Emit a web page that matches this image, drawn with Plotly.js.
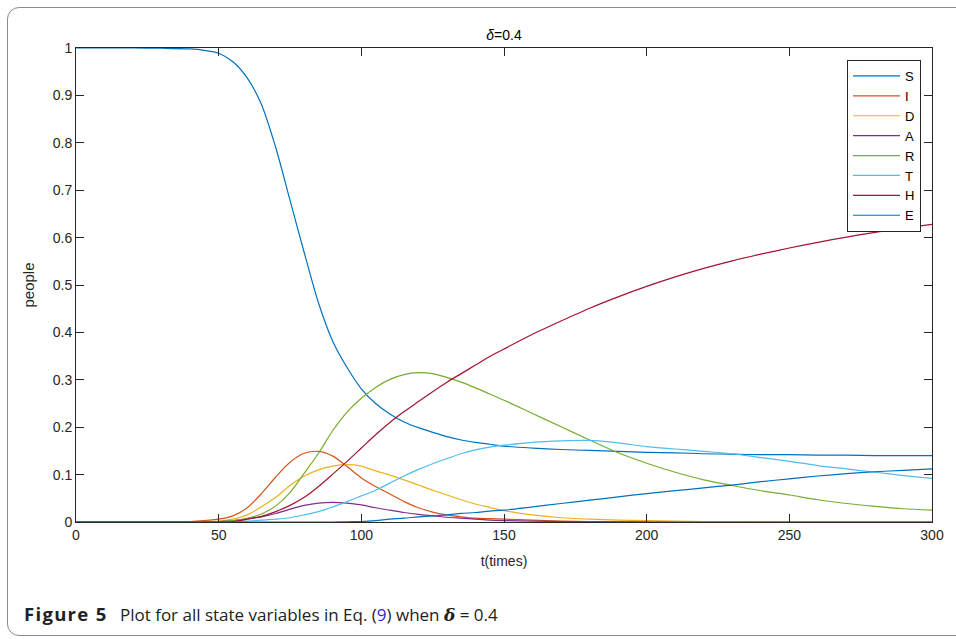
<!DOCTYPE html>
<html>
<head>
<meta charset="utf-8">
<script src="https://cdn.plot.ly/plotly-3.0.1.min.js"></script>
<style>
  html, body { margin: 0; padding: 0; background: #ffffff; width: 956px; height: 639px; overflow: hidden; }
  #chart { position: absolute; left: 0; top: 0; width: 956px; height: 639px; }
  #frame { position: absolute; left: 7px; top: 7px; width: 1000px; height: 627px;
           border: 1.5px solid #8a8a8a; border-radius: 12px; pointer-events: none; }
  #caption { position: absolute; left: 24px; top: 601px; font-family: "Open Sans", "Noto Sans", sans-serif;
             font-size: 17px; color: #222; white-space: nowrap; }
  #caption b { font-weight: bold; margin-right: 8px; font-size: 18.5px; letter-spacing: 1.3px; }
  #caption .ref { color: #2a2ad8; }
  #caption .m { font-family: "DejaVu Serif", serif; font-style: italic; font-weight: bold; }
</style>
</head>
<body>
<div id="chart"></div>
<div id="frame"></div>
<div id="caption"><b>Figure 5</b> Plot for all state variables in Eq. (<span class="ref">9</span>) when <span class="m">δ</span> = 0.4</div>
<script>
// time points
const t = [0,10,20,30,40,45,50,55,60,65,70,75,80,85,90,95,100,105,110,115,120,125,130,135,140,145,150,160,170,180,190,200,210,220,230,240,250,260,270,280,290,300];

const seriesNames = ["S","I","D","A","R","T","H","E"];

const S = [1,1,1,0.9995,0.998,0.995,0.989,0.971,0.937,0.881,0.790,0.679,0.568,0.462,0.381,0.326,0.281,0.250,0.228,0.211,0.199,0.189,0.180,0.173,0.168,0.164,0.160,0.156,0.153,0.151,0.149,0.147,0.146,0.144,0.143,0.142,0.142,0.141,0.141,0.140,0.140,0.140];
const I = [0,0,0,0.0002,0.001,0.003,0.006,0.013,0.03,0.06,0.095,0.126,0.145,0.149,0.139,0.117,0.093,0.075,0.059,0.043,0.030,0.021,0.015,0.011,0.008,0.007,0.006,0.004,0.002,0.001,0.001,0.0005,0,0,0,0,0,0,0,0,0,0];
const D = [0,0,0,0,0,0.001,0.002,0.006,0.015,0.032,0.052,0.077,0.097,0.110,0.118,0.121,0.118,0.108,0.099,0.089,0.078,0.067,0.057,0.047,0.038,0.031,0.024,0.015,0.009,0.006,0.004,0.003,0.002,0.001,0.001,0.0005,0,0,0,0,0,0];
const A = [0,0,0,0,0,0,0.001,0.003,0.007,0.011,0.018,0.027,0.035,0.040,0.0415,0.040,0.036,0.030,0.025,0.020,0.016,0.013,0.010,0.008,0.006,0.004,0.003,0.002,0.001,0.0005,0,0,0,0,0,0,0,0,0,0,0,0];
const R = [0,0,0,0,0,0,0.001,0.003,0.008,0.017,0.034,0.062,0.103,0.145,0.193,0.232,0.261,0.284,0.301,0.311,0.315,0.313,0.305,0.295,0.283,0.270,0.257,0.229,0.201,0.173,0.146,0.124,0.105,0.089,0.077,0.066,0.057,0.047,0.039,0.033,0.028,0.025];
const T = [0,0,0,0,0,0,0,0.001,0.002,0.004,0.006,0.009,0.015,0.022,0.032,0.043,0.055,0.067,0.082,0.097,0.111,0.123,0.134,0.144,0.152,0.158,0.162,0.168,0.171,0.172,0.167,0.159,0.154,0.149,0.144,0.136,0.128,0.119,0.112,0.105,0.098,0.092];
const H = [0,0,0,0,0,0,0,0.001,0.006,0.012,0.022,0.035,0.052,0.075,0.101,0.128,0.156,0.184,0.210,0.233,0.254,0.275,0.295,0.313,0.331,0.349,0.365,0.396,0.424,0.451,0.475,0.497,0.517,0.535,0.551,0.565,0.578,0.590,0.601,0.611,0.620,0.628];
const E = [0,0,0,0,0,0,0,0,0,0,0,0,0,0,0,0.0005,0.001,0.003,0.006,0.008,0.011,0.013,0.015,0.018,0.020,0.023,0.025,0.032,0.039,0.046,0.053,0.060,0.066,0.072,0.078,0.085,0.091,0.097,0.102,0.106,0.109,0.112];

const xTicks = [0,50,100,150,200,250,300];
const yTicks = [0,0.1,0.2,0.3,0.4,0.5,0.6,0.7,0.8,0.9,1];

const colors = ["#0072BD","#D95319","#EDB120","#7E2F8E","#77AC30","#4DBEEE","#A2142F","#0072BD"];
const values = [S,I,D,A,R,T,H,E];

const traces = seriesNames.map((n,i) => ({
  x: t, y: values[i], name: n, type: "scatter", mode: "lines",
  line: {color: colors[i], width: 1.2, shape: "spline", smoothing: 0.8}
}));

const fontFam = '"Liberation Sans", Arial, Helvetica, sans-serif';
const axCol = "#262626";

const layout = {
  width: 956, height: 639,
  margin: {l: 76, r: 24, t: 48, b: 117},
  paper_bgcolor: "#ffffff", plot_bgcolor: "#ffffff",
  font: {family: fontFam, size: 14, color: axCol},
  title: {text: "<i>δ</i>=0.4", font: {family: fontFam, size: 14, color: "#000"}, x: 0.5, xanchor: "center", xref: "paper", y: 1 - 35/639, yanchor: "middle", yref: "container"},
  xaxis: {
    range: [0,300], tickvals: xTicks, ticktext: xTicks.map(String),
    showline: true, linecolor: axCol, linewidth: 1, mirror: "ticks",
    ticks: "inside", ticklen: 8, tickcolor: axCol, tickwidth: 1,
    showgrid: false, zeroline: false,
    tickfont: {family: fontFam, size: 14, color: axCol},
    title: {text: "t(times)", font: {family: fontFam, size: 14, color: axCol}, standoff: 14},
    automargin: false
  },
  yaxis: {
    range: [0,1], tickvals: yTicks, ticktext: yTicks.map(String),
    showline: true, linecolor: axCol, linewidth: 1, mirror: "ticks",
    ticks: "inside", ticklen: 8, tickcolor: axCol, tickwidth: 1,
    showgrid: false, zeroline: false,
    tickfont: {family: fontFam, size: 14, color: axCol},
    title: {text: "people", font: {family: fontFam, size: 15, color: axCol}, standoff: 14},
    automargin: false
  },
  legend: {
    x: (921-76)/856, xanchor: "right", y: (522-60)/474, yanchor: "top",
    bgcolor: "#ffffff", bordercolor: axCol, borderwidth: 1,
    font: {family: fontFam, size: 13, color: "#000"},
    itemwidth: 47,
    tracegroupgap: 0
  },
  showlegend: true
};

Plotly.newPlot("chart", traces, layout, {staticPlot: true, displayModeBar: false});
</script>
</body>
</html>
